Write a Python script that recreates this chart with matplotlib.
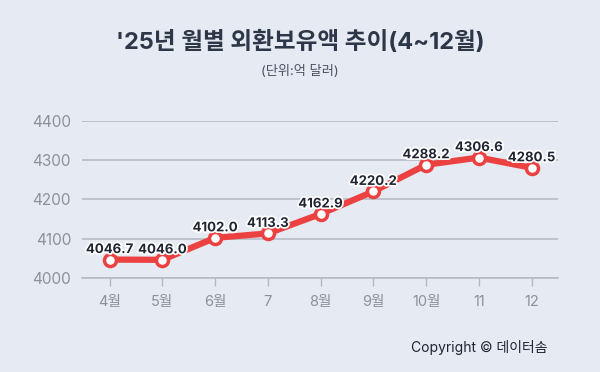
import matplotlib
matplotlib.use("Agg")
import matplotlib.pyplot as plt
import matplotlib.patheffects as pe

plt.rcParams['font.family'] = ['Inter', 'Noto Sans CJK KR', 'DejaVu Sans']

# ── Data ──────────────────────────────────────────────────────────────
months = ["4월", "5월", "6월", "7", "8월", "9월", "10월", "11", "12"]
reserves = [4046.7, 4046.0, 4102.0, 4113.3, 4162.9, 4220.2, 4288.2, 4306.6, 4280.5]
yticks = [4000, 4100, 4200, 4300, 4400]

BG = "#e6eaf2"
RED = "#ec4141"
GRID = "#b3b8c2"
TICKC = "#8c919b"

fig = plt.figure(figsize=(6, 3.72), dpi=100)
fig.patch.set_facecolor(BG)
ax = fig.add_axes([0.137, 0.253, 0.793, 0.422])
ax.set_facecolor(BG)

x = list(range(len(months)))
ax.plot(x, reserves, color=RED, lw=4.5, zorder=3, solid_capstyle="round")
ax.scatter(x, reserves, s=75, facecolor="white", edgecolor=RED, linewidth=2.5, zorder=4)

for xi, v in zip(x, reserves):
    ax.text(xi, v + 9, f"{v:.1f}", ha="center", va="bottom", fontsize=9.5,
            fontweight="bold", color="#1f2533", zorder=5,
            path_effects=[pe.withStroke(linewidth=2.5, foreground="white")])

ax.set_xlim(-0.52, len(months) - 0.5)
ax.set_ylim(4000, 4400)
ax.set_yticks(yticks)
ax.set_xticks(x)
ax.set_xticklabels(months)
ax.grid(axis="y", color=GRID, lw=1.1)
ax.set_axisbelow(True)
for s in ["top", "right", "left"]:
    ax.spines[s].set_visible(False)
ax.spines["bottom"].set_color(GRID)
ax.spines["bottom"].set_linewidth(1.1)
ax.tick_params(axis="y", length=0, pad=8, labelsize=11, labelcolor=TICKC)
ax.tick_params(axis="x", length=6, width=1, color=GRID, pad=6, labelsize=10.5, labelcolor=TICKC)

fig.text(0.5, 0.885, "'25년 월별 외환보유액 추이(4~12월)", ha="center", va="center",
         fontsize=17, fontweight="bold", color="#2d3748")
fig.text(0.5, 0.807, "(단위:억 달러)", ha="center", va="center", fontsize=9.5, color="#4a5060")
fig.text(0.913, 0.067, "Copyright © 데이터솜", ha="right", va="center", fontsize=10, color="#1f2533")

fig.savefig("out.png", dpi=100, facecolor=BG)
